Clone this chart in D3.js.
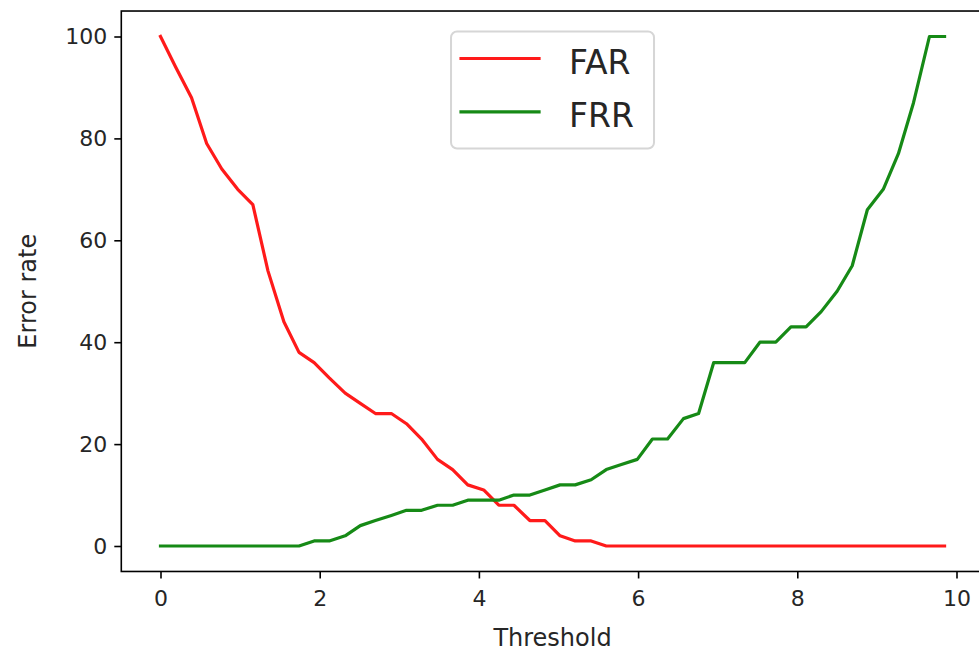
<!DOCTYPE html>
<html>
<head>
<meta charset="utf-8">
<script src="https://cdn.jsdelivr.net/npm/d3@7"></script>
<style>
  html, body { margin: 0; padding: 0; background: #ffffff; }
  svg { display: block; font-family: "DejaVu Sans", sans-serif; }
</style>
</head>
<body>
<svg id="chart" width="979" height="651"></svg>
<script>
// Decision thresholds (x axis)
const thresholds = [0, 0.19, 0.39, 0.58, 0.77, 0.97, 1.16, 1.35, 1.55, 1.74,
  1.93, 2.12, 2.32, 2.51, 2.70, 2.90, 3.09, 3.28, 3.48, 3.67,
  3.86, 4.06, 4.25, 4.44, 4.64, 4.83, 5.02, 5.21, 5.41, 5.60,
  5.79, 5.99, 6.18, 6.37, 6.57, 6.76, 6.95, 7.15, 7.34, 7.53,
  7.73, 7.92, 8.11, 8.30, 8.50, 8.69, 8.88, 9.08, 9.27, 9.46,
  9.66, 9.85];

// False acceptance rate at each threshold
const farValues = [100, 94, 88, 79, 74, 70, 67, 54, 44, 38,
  36, 33, 30, 28, 26, 26, 24, 21, 17, 15,
  12, 11, 8, 8, 5, 5, 2, 1, 1, 0,
  0, 0, 0, 0, 0, 0, 0, 0, 0, 0,
  0, 0, 0, 0, 0, 0, 0, 0, 0, 0,
  0, 0];

// False rejection rate at each threshold
const frrValues = [0, 0, 0, 0, 0, 0, 0, 0, 0, 0,
  1, 1, 2, 4, 5, 6, 7, 7, 8, 8,
  9, 9, 9, 10, 10, 11, 12, 12, 13, 15,
  16, 17, 21, 21, 25, 26, 36, 36, 36, 40,
  40, 43, 43, 46, 50, 55, 66, 70, 77, 87,
  100, 100];

const seriesNames = ["FAR", "FRR"];
const seriesColors = ["#ff1a1a", "#168a16"];
const xTicks = [0, 2, 4, 6, 8, 10];
const yTicks = [0, 20, 40, 60, 80, 100];
const xLabel = "Threshold";
const yLabel = "Error rate";

const svg = d3.select("#chart");

const x = d3.scaleLinear().domain([0, 10]).range([160.5, 956.5]);
const y = d3.scaleLinear().domain([0, 100]).range([546, 36.5]);

// plot area with 5% data margins
const xMin = -0.4925, xMax = 10.3425, yMin = -5, yMax = 105;
const plotL = x(xMin), plotR = x(xMax), plotT = y(yMax), plotB = y(yMin);

svg.append("rect").attr("width", 979).attr("height", 651).attr("fill", "#ffffff");

// series lines
const series = [farValues, frrValues];
const line = d3.line().x((d, i) => x(thresholds[i])).y(d => y(d));
series.forEach((vals, k) => {
  svg.append("path")
    .datum(vals)
    .attr("d", line)
    .attr("fill", "none")
    .attr("stroke", seriesColors[k])
    .attr("stroke-width", 3.2)
    .attr("stroke-linejoin", "round")
    .attr("stroke-linecap", "square");
});

// axes
const xAxis = d3.axisBottom(x).tickValues(xTicks).tickFormat(d3.format("d"))
  .tickSize(7).tickPadding(12);
const yAxis = d3.axisLeft(y).tickValues(yTicks).tickFormat(d3.format("d"))
  .tickSize(7).tickPadding(7);

const gx = svg.append("g").attr("transform", `translate(0,${plotB})`).call(xAxis);
const gy = svg.append("g").attr("transform", `translate(${plotL},0)`).call(yAxis);
[gx, gy].forEach(g => {
  g.select(".domain").remove();
  g.selectAll(".tick line").attr("stroke", "#000").attr("stroke-width", 1.6);
  g.selectAll(".tick text").attr("fill", "#262626").attr("font-size", 22)
    .attr("font-family", "DejaVu Sans, sans-serif");
});

// spines
svg.append("rect")
  .attr("x", plotL).attr("y", plotT)
  .attr("width", plotR - plotL).attr("height", plotB - plotT)
  .attr("fill", "none").attr("stroke", "#000").attr("stroke-width", 1.6);

// axis titles
svg.append("text")
  .attr("x", (plotL + plotR) / 2).attr("y", 646)
  .attr("text-anchor", "middle").attr("font-size", 24).attr("fill", "#262626")
  .text(xLabel);
svg.append("text")
  .attr("transform", `translate(36,${(plotT + plotB) / 2}) rotate(-90)`)
  .attr("text-anchor", "middle").attr("font-size", 24).attr("fill", "#262626")
  .text(yLabel);

// legend (upper center)
const lgW = 203, lgH = 117;
const lgX = (plotL + plotR) / 2 - lgW / 2, lgY = 31.5;
const lg = svg.append("g").attr("transform", `translate(${lgX},${lgY})`);
lg.append("rect")
  .attr("width", lgW).attr("height", lgH).attr("rx", 6).attr("ry", 6)
  .attr("fill", "rgba(255,255,255,0.8)")
  .attr("stroke", "#d6d6d6").attr("stroke-width", 2);
seriesNames.forEach((name, k) => {
  const cy = 27 + k * 53.4;
  lg.append("line")
    .attr("x1", 10).attr("x2", 88).attr("y1", cy).attr("y2", cy)
    .attr("stroke", seriesColors[k]).attr("stroke-width", 3.2)
    .attr("stroke-linecap", "square");
  lg.append("text")
    .attr("x", 118).attr("y", cy + 15)
    .attr("font-size", 33).attr("fill", "#262626")
    .text(name);
});
</script>
</body>
</html>
